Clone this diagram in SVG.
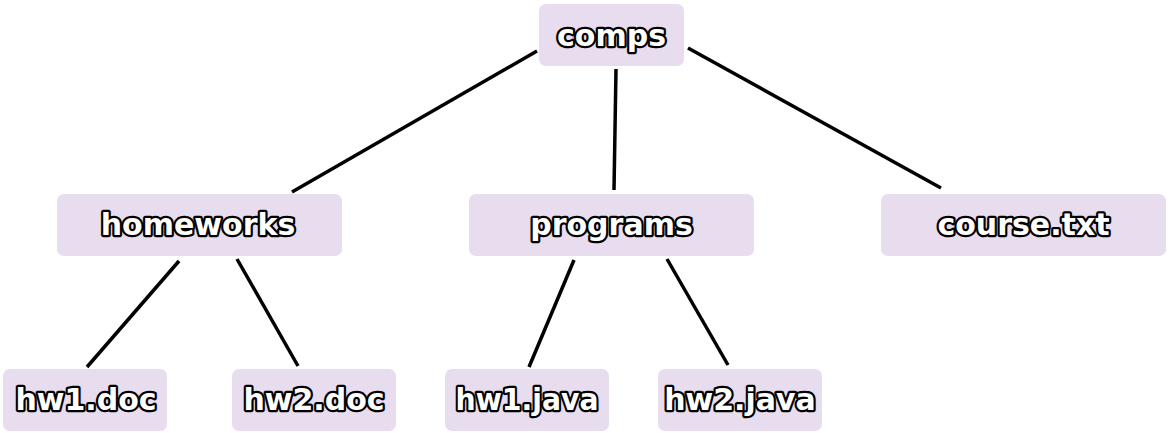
<svg xmlns="http://www.w3.org/2000/svg" width="1168" height="433" viewBox="0 0 1168 433">
<style>
.box{fill:#e8dcef;}
.lbl{font-family:"DejaVu Sans",sans-serif;font-weight:bold;font-size:30px;fill:#ffffff;stroke:#000000;stroke-width:4.5;stroke-linejoin:round;paint-order:stroke;text-anchor:middle;}
.edge{stroke:#000000;stroke-width:3.5;fill:none;}
</style>
<rect width="1168" height="433" fill="#ffffff"/>
<g id="connectors">
<line class="edge" x1="537" y1="51" x2="292" y2="192"/>
<line class="edge" x1="616" y1="69" x2="614" y2="190"/>
<line class="edge" x1="688" y1="48" x2="941" y2="188"/>
<line class="edge" x1="179" y1="261" x2="87" y2="367"/>
<line class="edge" x1="237" y1="259" x2="298" y2="366"/>
<line class="edge" x1="574" y1="260" x2="529" y2="367"/>
<line class="edge" x1="667" y1="259" x2="728" y2="365"/>
</g>
<g id="comps"><rect class="box" x="539" y="4" width="145" height="62" rx="7"/><text class="lbl" x="611.5" y="46">comps</text></g>
<g id="homeworks"><rect class="box" x="57" y="194" width="285" height="62" rx="7"/><text class="lbl" x="198" y="235">homeworks</text></g>
<g id="programs"><rect class="box" x="469" y="194" width="285" height="62" rx="7"/><text class="lbl" x="611.5" y="235">programs</text></g>
<g id="course"><rect class="box" x="881" y="194" width="285" height="62" rx="7"/><text class="lbl" x="1023.5" y="235">course.txt</text></g>
<g id="hw1doc"><rect class="box" x="3" y="369" width="164" height="62" rx="7"/><text class="lbl" x="86" y="410">hw1.doc</text></g>
<g id="hw2doc"><rect class="box" x="232" y="369" width="164" height="62" rx="7"/><text class="lbl" x="314" y="410">hw2.doc</text></g>
<g id="hw1java"><rect class="box" x="445" y="369" width="164" height="62" rx="7"/><text class="lbl" x="527" y="410" textLength="143" lengthAdjust="spacingAndGlyphs">hw1.java</text></g>
<g id="hw2java"><rect class="box" x="658" y="369" width="164" height="62" rx="7"/><text class="lbl" x="740" y="410">hw2.java</text></g>
</svg>
